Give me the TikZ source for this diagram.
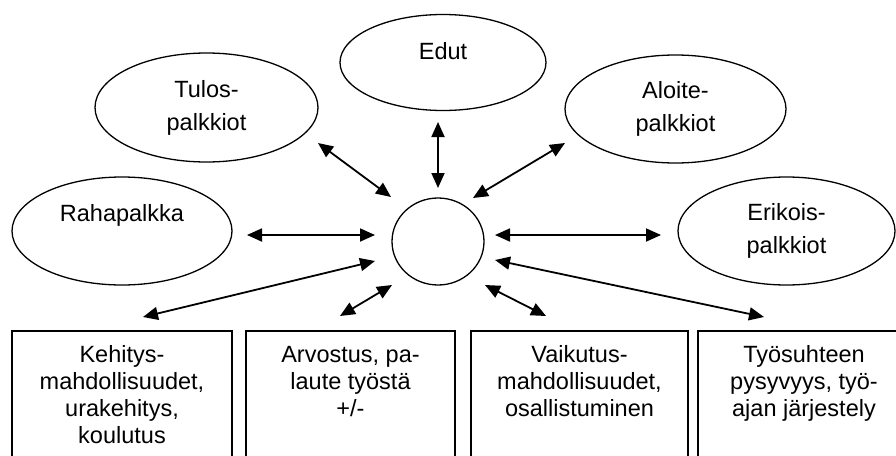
\documentclass[tikz,border=0pt]{standalone}
\usepackage{fontspec}
\setmainfont{Liberation Sans}
\usetikzlibrary{arrows.meta,shapes.geometric}
\begin{document}
\begin{tikzpicture}[x=1pt,y=-1pt,
 ell/.style={draw, line width=1.3pt, ellipse, inner sep=0pt, font=\fontsize{23.5}{33}\selectfont, align=center},
 boxx/.style={draw, line width=1.5pt, rectangle, inner sep=0pt, anchor=north, minimum height=150pt},
 btxt/.style={font=\fontsize{23.5}{27}\selectfont, align=center, anchor=base, inner sep=0pt},
 link/.style={{Triangle[length=15pt,width=13pt]}-{Triangle[length=15pt,width=13pt]}, line width=1.8pt},
]
\useasboundingbox (0,0) rectangle (896,455);
\clip (0,0) rectangle (896,455);

% ellipses
\node[ell, minimum width=206pt, minimum height=96pt] (edut) at (443,62.5) {\raisebox{11pt}[\height][\depth]{Edut}};
\node[ell, minimum width=223pt, minimum height=109pt] (tulos) at (206.5,107.5) {Tulos-\\palkkiot};
\node[ell, minimum width=221pt, minimum height=108pt] (aloite) at (675.5,109) {Aloite-\\palkkiot};
\node[ell, minimum width=220pt, minimum height=108pt] (raha) at (122,231) {\raisebox{16pt}[\height][\depth]{Rahapalkka}};
\node[ell, minimum width=217pt, minimum height=108pt] (erik) at (786.5,231) {Erikois-\\palkkiot};
\node[ell, minimum width=92pt, minimum height=87pt] (c) at (438,241.5) {};

% boxes
\node[boxx, minimum width=220pt] (b1) at (122,330) {};
\node[boxx, minimum width=209pt] (b2) at (350.5,330) {};
\node[boxx, minimum width=217pt] (b3) at (579.5,330) {};
\node[boxx, minimum width=212pt] (b4) at (804,330) {};
% base anchor = baseline of last line
\node[btxt] (t1) at (122,443) {Kehitys-\\mahdollisuudet,\\urakehitys,\\koulutus};
\node[btxt] (t2) at (350.5,416) {Arvostus, pa-\\laute työstä\\+/-};
\node[btxt] (t3) at (579.5,416) {Vaikutus-\\mahdollisuudet,\\osallistuminen};
\node[btxt] (t4) at (804,416) {Työsuhteen\\pysyvyys, työ-\\ajan järjestely};

% arrow end points
\coordinate (r1) at (247,235); \coordinate (r2) at (375,235);
\coordinate (tu1) at (318,143); \coordinate (tu2) at (391,197);
\coordinate (e1) at (438,122); \coordinate (e2) at (438,188);
\coordinate (a1) at (565,143); \coordinate (a2) at (473,198);
\coordinate (k1) at (495,235); \coordinate (k2) at (661,235);
\coordinate (x1) at (375,261); \coordinate (x2) at (143,317);
\coordinate (y1) at (392,285); \coordinate (y2) at (340,316);
\coordinate (z1) at (485,285); \coordinate (z2) at (546,316);
\coordinate (w1) at (495,260); \coordinate (w2) at (764,317);

\draw[link] (r1) -- (r2);
\draw[link] (tu1) -- (tu2);
\draw[link] (e1) -- (e2);
\draw[link] (a1) -- (a2);
\draw[link] (k1) -- (k2);
\draw[link] (x1) -- (x2);
\draw[link] (y1) -- (y2);
\draw[link] (z1) -- (z2);
\draw[link] (w1) -- (w2);
\end{tikzpicture}
\end{document}
